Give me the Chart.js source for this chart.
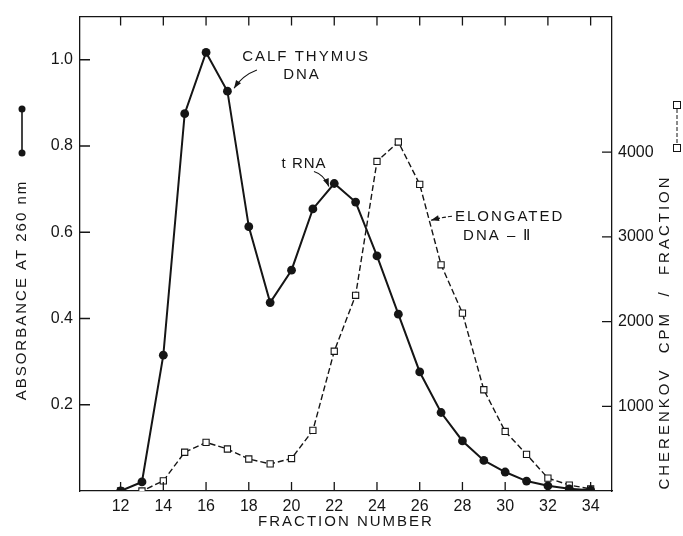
<!DOCTYPE html>
<html>
<head>
<meta charset="utf-8">
<script src="https://cdn.jsdelivr.net/npm/chart.js@4.4.1/dist/chart.umd.min.js"></script>
<style>
  html, body { margin: 0; padding: 0; background: #fff; }
  #wrap { width: 683px; height: 536px; }
</style>
</head>
<body>
<div id="wrap"><canvas id="chart" width="683" height="536"></canvas></div>
<script>
// fraction numbers on the x axis
const fractions = [12, 13, 14, 15, 16, 17, 18, 19, 20, 21, 22, 23, 24, 25, 26, 27, 28, 29, 30, 31, 32, 33, 34];
// absorbance at 260 nm (filled circles, solid line)
const absorbance = [0.00, 0.021, 0.315, 0.875, 1.017, 0.927, 0.613, 0.437, 0.512, 0.654, 0.713, 0.670,
                    0.545, 0.410, 0.276, 0.182, 0.116, 0.071, 0.044, 0.023, 0.012, 0.005, 0.002];
// cherenkov cpm / fraction (open squares, dashed line)
const cherenkov = [0, 0, 120, 457, 574, 496, 378, 320, 383, 715, 1650, 2310,
                   3890, 4120, 3620, 2670, 2100, 1195, 703, 433, 152, 70, 25];

const fractionTicks = [12, 14, 16, 18, 20, 22, 24, 26, 28, 30, 32, 34];
const absorbanceTicks = [0.2, 0.4, 0.6, 0.8, 1.0];
const cpmTicks = [1000, 2000, 3000, 4000];

const ink = '#151515';
const fontFamily = '"Liberation Sans", Arial, sans-serif';

function drawText(ctx, text, x, y, size, spacing, align, rotate) {
    ctx.save();
    ctx.font = size + 'px ' + fontFamily;
    ctx.fillStyle = ink;
    ctx.letterSpacing = spacing + 'px';
    ctx.textAlign = align || 'center';
    ctx.textBaseline = 'middle';
    ctx.translate(x, y);
    if (rotate) ctx.rotate(-Math.PI / 2);
    ctx.fillText(text, 0, 0);
    ctx.restore();
}

function drawArrow(ctx, p0, p1, p2, dashed) {
    ctx.save();
    ctx.strokeStyle = ink;
    ctx.fillStyle = ink;
    ctx.lineWidth = 1.1;
    if (dashed) ctx.setLineDash([4, 2]);
    ctx.beginPath();
    ctx.moveTo(p0[0], p0[1]);
    ctx.quadraticCurveTo(p1[0], p1[1], p2[0], p2[1]);
    ctx.stroke();
    ctx.setLineDash([]);
    const ang = Math.atan2(p2[1] - p1[1], p2[0] - p1[0]);
    const len = 8, w = 3;
    ctx.beginPath();
    ctx.moveTo(p2[0], p2[1]);
    ctx.lineTo(p2[0] - len * Math.cos(ang) + w * Math.sin(ang), p2[1] - len * Math.sin(ang) - w * Math.cos(ang));
    ctx.lineTo(p2[0] - len * Math.cos(ang) - w * Math.sin(ang), p2[1] - len * Math.sin(ang) + w * Math.cos(ang));
    ctx.closePath();
    ctx.fill();
    ctx.restore();
}

const framePlugin = {
    id: 'frame',
    afterDraw(chart) {
        const { ctx, chartArea: a, scales } = chart;
        const px = (f, v) => [scales.x.getPixelForValue(f), scales.y.getPixelForValue(v)];

        // top border and inward ticks
        ctx.save();
        ctx.strokeStyle = ink;
        ctx.lineWidth = 1.3;
        ctx.beginPath();
        ctx.moveTo(a.left, a.top);
        ctx.lineTo(a.right, a.top);
        fractionTicks.forEach(v => {
            const x = scales.x.getPixelForValue(v);
            ctx.moveTo(x, a.bottom);
            ctx.lineTo(x, a.bottom - 9);
            ctx.moveTo(x, a.top);
            ctx.lineTo(x, a.top + 9);
        });
        absorbanceTicks.forEach(v => {
            const y = scales.y.getPixelForValue(v);
            ctx.moveTo(a.left, y);
            ctx.lineTo(a.left + 10, y);
        });
        cpmTicks.forEach(v => {
            const y = scales.y1.getPixelForValue(v);
            ctx.moveTo(a.right, y);
            ctx.lineTo(a.right - 10, y);
        });
        ctx.stroke();
        ctx.restore();

        // axis titles
        drawText(ctx, 'FRACTION NUMBER', (a.left + a.right) / 2, 522, 15, 2);
        drawText(ctx, 'ABSORBANCE AT 260 nm', 22, 290, 15, 2, 'center', true);
        drawText(ctx, 'CHERENKOV  CPM  /  FRACTION', 665, 332, 15, 3, 'center', true);

        // legend keys beside the axis titles
        ctx.save();
        ctx.strokeStyle = ink;
        ctx.fillStyle = ink;
        ctx.lineWidth = 1.6;
        ctx.beginPath();
        ctx.moveTo(22, 109);
        ctx.lineTo(22, 153);
        ctx.stroke();
        [109, 153].forEach(y => {
            ctx.beginPath();
            ctx.arc(22, y, 3.5, 0, Math.PI * 2);
            ctx.fill();
        });
        ctx.lineWidth = 1;
        ctx.setLineDash([4, 2]);
        ctx.beginPath();
        ctx.moveTo(677, 109);
        ctx.lineTo(677, 144);
        ctx.stroke();
        ctx.setLineDash([]);
        [105, 148].forEach(y => {
            ctx.fillStyle = '#fff';
            ctx.fillRect(673.5, y - 3.5, 7, 7);
            ctx.strokeRect(673.5, y - 3.5, 7, 7);
        });
        ctx.restore();

        // annotations
        let p = px(20.68, 1.006);
        drawText(ctx, 'CALF THYMUS', p[0], p[1], 15, 2);
        p = px(20.49, 0.964);
        drawText(ctx, 'DNA', p[0], p[1], 15, 2);
        drawArrow(ctx, px(18.38, 0.976), px(17.72, 0.964), px(17.31, 0.934));

        p = px(20.59, 0.759);
        drawText(ctx, 't RNA', p[0], p[1], 15, 1);
        drawArrow(ctx, px(21.05, 0.741), px(21.52, 0.734), px(21.75, 0.706));

        p = px(27.65, 0.635);
        drawText(ctx, 'ELONGATED', p[0], p[1], 15, 2, 'left');
        p = px(28.03, 0.591);
        drawText(ctx, 'DNA – \u2161', p[0], p[1], 15, 2, 'left');
        drawArrow(ctx, px(27.51, 0.637), px(27.0, 0.634), px(26.53, 0.628), true);
    }
};

const tickFont = { family: fontFamily, size: 16 };

new Chart(document.getElementById('chart'), {
    type: 'line',
    data: {
        datasets: [
            {
                label: 'Absorbance at 260 nm',
                data: fractions.map((f, i) => ({ x: f, y: absorbance[i] })),
                yAxisID: 'y',
                borderColor: ink,
                borderWidth: 2,
                pointRadius: 4.4,
                pointBackgroundColor: ink,
                pointBorderWidth: 0,
                tension: 0
            },
            {
                label: 'Cherenkov CPM / fraction',
                data: fractions.map((f, i) => ({ x: f, y: cherenkov[i] })),
                yAxisID: 'y1',
                borderColor: ink,
                borderWidth: 1.4,
                borderDash: [6, 3],
                pointStyle: 'rect',
                pointRadius: 4.4,
                pointBackgroundColor: '#fff',
                pointBorderColor: ink,
                pointBorderWidth: 1.1,
                tension: 0
            }
        ]
    },
    options: {
        responsive: false,
        devicePixelRatio: 1,
        animation: false,
        layout: { padding: { top: 13, left: 0, right: 0, bottom: 0 } },
        plugins: { legend: { display: false }, tooltip: { enabled: false } },
        scales: {
            x: {
                type: 'linear',
                min: 10.1,
                max: 35,
                afterBuildTicks: s => { s.ticks = fractionTicks.map(v => ({ value: v })); },
                afterFit: s => { s.height = 45; },
                grid: { display: true, drawOnChartArea: false, drawTicks: false },
                border: { color: ink, width: 1.3 },
                ticks: { font: tickFont, color: ink, padding: 6, maxRotation: 0, autoSkip: false }
            },
            y: {
                position: 'left',
                min: 0,
                max: 1.1,
                afterBuildTicks: s => { s.ticks = absorbanceTicks.map(v => ({ value: v })); },
                afterFit: s => { s.width = 80; },
                grid: { display: true, drawOnChartArea: false, drawTicks: false },
                border: { color: ink, width: 1.3 },
                ticks: { font: tickFont, color: ink, padding: 7, callback: v => v.toFixed(1) }
            },
            y1: {
                position: 'right',
                min: 0,
                max: 5600,
                afterBuildTicks: s => { s.ticks = cpmTicks.map(v => ({ value: v })); },
                afterFit: s => { s.width = 71; },
                grid: { display: true, drawOnChartArea: false, drawTicks: false },
                border: { color: ink, width: 1.3 },
                ticks: { font: tickFont, color: ink, padding: 6, callback: v => String(v) }
            }
        }
    },
    plugins: [framePlugin]
});
</script>
</body>
</html>
